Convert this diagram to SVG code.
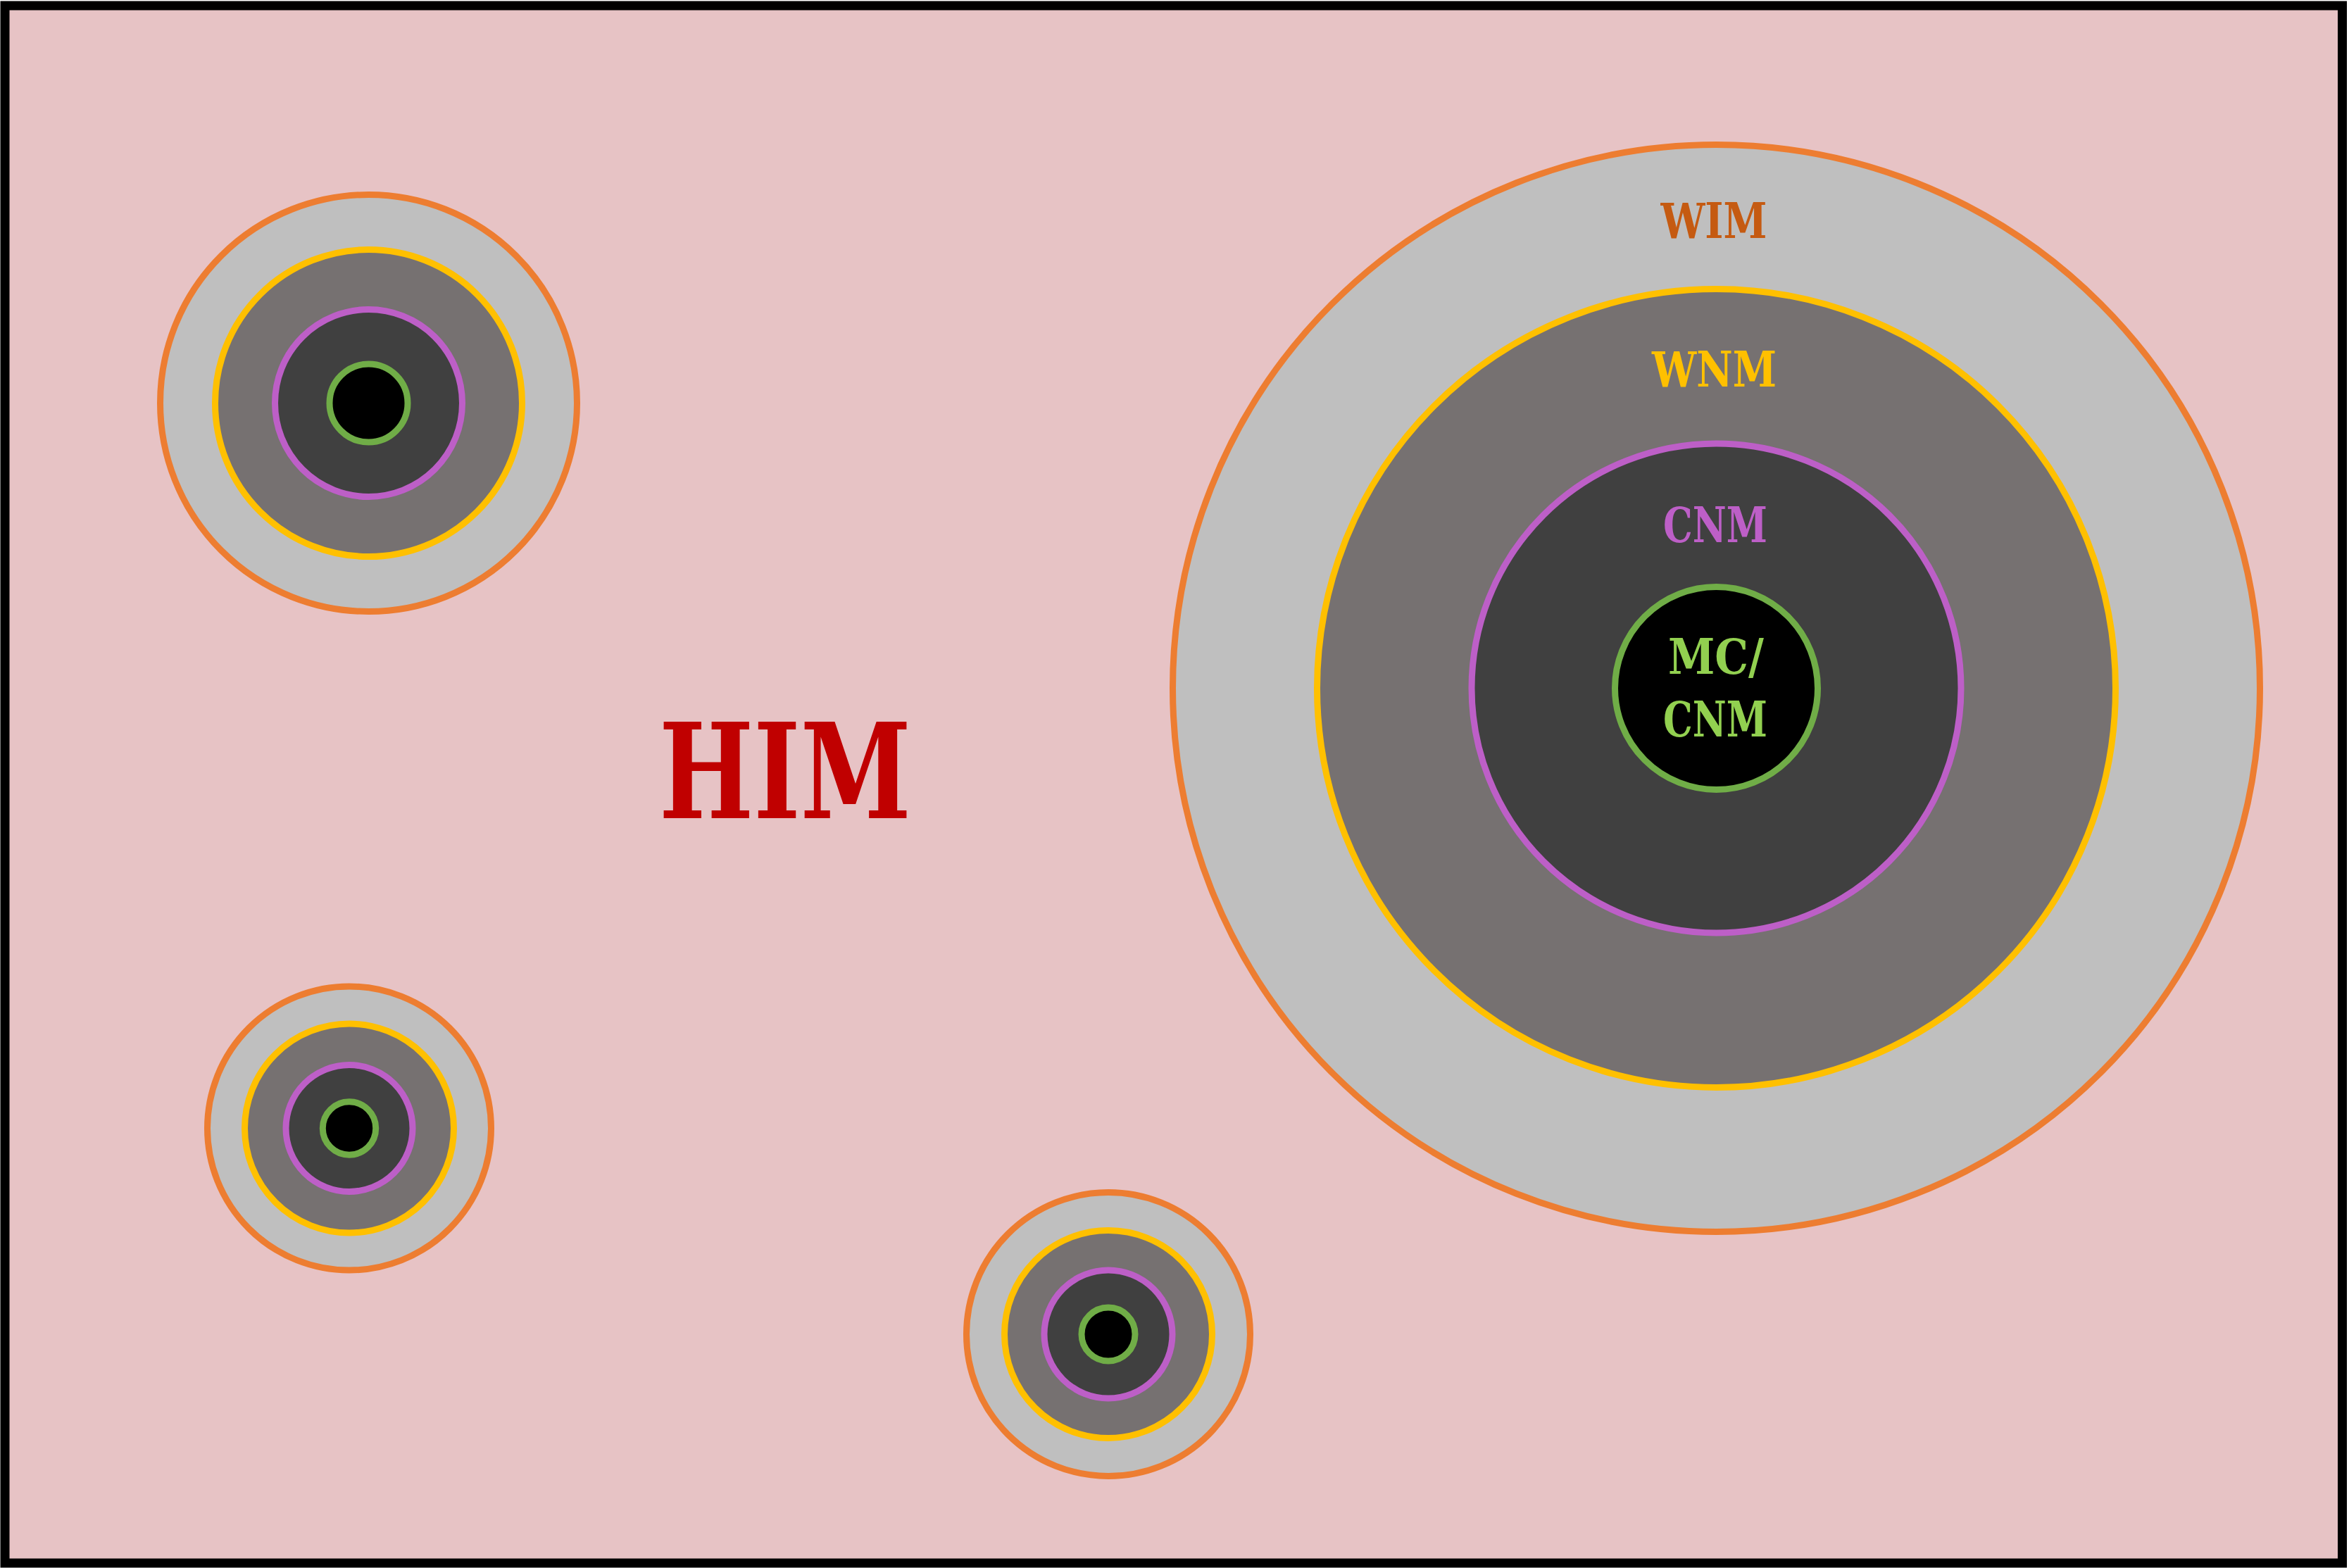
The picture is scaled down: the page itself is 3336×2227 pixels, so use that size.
<svg xmlns="http://www.w3.org/2000/svg" width="3336" height="2227" viewBox="0 0 3336 2227">
  <style>
    .wim { fill: #BFBFBF; stroke: #ED7D31; stroke-width: 9; }
    .wnm { fill: #767171; stroke: #FFC000; stroke-width: 9; }
    .cnm { fill: #404040; stroke: #BD5FC7; stroke-width: 9; }
    .mc { fill: #000000; stroke: #70AD47; stroke-width: 9; }
    text { font-family: "DejaVu Serif", "Liberation Serif", serif; font-stretch: condensed; font-weight: bold; text-anchor: middle; }
    .lbl { font-size: 69px; }
  </style>
  <g id="background">
    <rect x="7" y="8" width="3319.5" height="2212" fill="#E7C3C5" stroke="#000000" stroke-width="13"/>
  </g>
  <g id="label-him">
    <text x="1115" y="1162" font-size="188" fill="#C00000" textLength="358" lengthAdjust="spacingAndGlyphs">HIM</text>
  </g>
  <g id="cloud-large">
    <circle class="wim" cx="2437.5" cy="977.5" r="772"/>
    <circle class="wnm" cx="2437.5" cy="977.5" r="567"/>
    <circle class="cnm" cx="2437.5" cy="977.5" r="347.5"/>
    <circle class="mc" cx="2437.5" cy="977.5" r="144"/>
    <text class="lbl" x="2434" y="338" fill="#C55A11" textLength="151" lengthAdjust="spacingAndGlyphs">WIM</text>
    <text class="lbl" x="2434.5" y="549" fill="#FFC000" textLength="177" lengthAdjust="spacingAndGlyphs">WNM</text>
    <text class="lbl" x="2436" y="770" fill="#BD5FC7" textLength="148" lengthAdjust="spacingAndGlyphs">CNM</text>
    <text class="lbl" x="2437" y="957" fill="#92D050" textLength="136" lengthAdjust="spacingAndGlyphs">MC/</text>
    <text class="lbl" x="2436" y="1046" fill="#92D050" textLength="148" lengthAdjust="spacingAndGlyphs">CNM</text>
  </g>
  <g id="cloud-top-left">
    <circle class="wim" cx="523.5" cy="572.5" r="296"/>
    <circle class="wnm" cx="523.5" cy="572.5" r="218"/>
    <circle class="cnm" cx="523.5" cy="572.5" r="133"/>
    <circle class="mc" cx="523.5" cy="572.5" r="55.5"/>
  </g>
  <g id="cloud-bottom-left">
    <circle class="wim" cx="496" cy="1602.5" r="201.5"/>
    <circle class="wnm" cx="496" cy="1602.5" r="148.5"/>
    <circle class="cnm" cx="496" cy="1602.5" r="90"/>
    <circle class="mc" cx="496" cy="1602.5" r="37.7"/>
  </g>
  <g id="cloud-bottom-middle">
    <circle class="wim" cx="1574" cy="1895" r="201.5"/>
    <circle class="wnm" cx="1574" cy="1895" r="147.5"/>
    <circle class="cnm" cx="1574" cy="1895" r="91"/>
    <circle class="mc" cx="1574" cy="1895" r="38"/>
  </g>
  <g id="connectors"/>
</svg>
